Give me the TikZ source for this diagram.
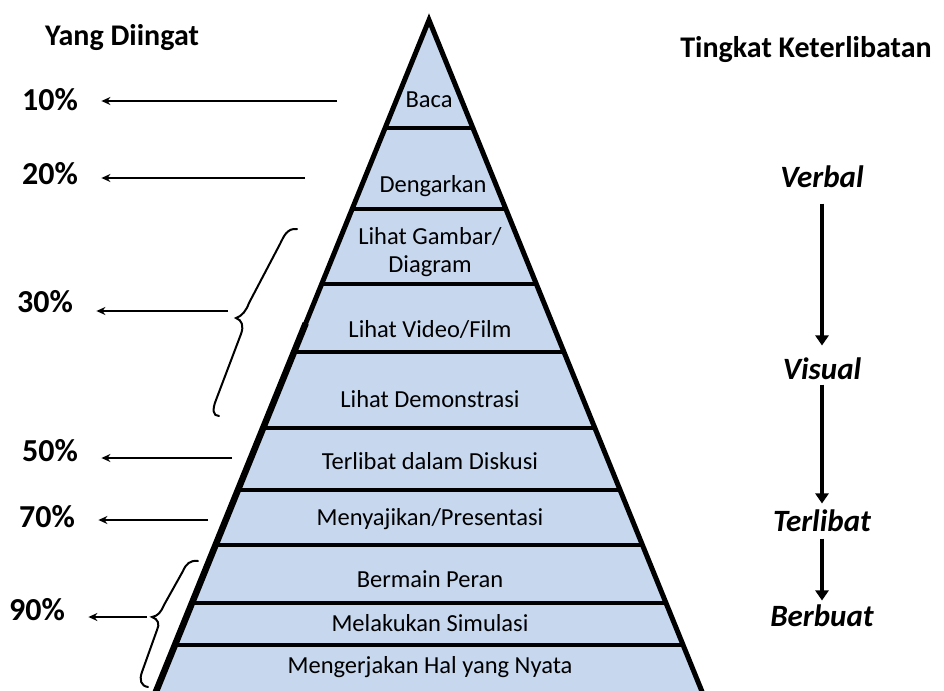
\documentclass[tikz,border=0pt]{standalone}
\usepackage{fontspec}
\setmainfont{Carlito}
\usetikzlibrary{arrows.meta,calc,positioning}

\definecolor{layerblue}{HTML}{C6D7EE}

\tikzset{
  layer/.style={font=\fontsize{24.5}{28}\selectfont, align=center},
  pct/.style={font=\bfseries\fontsize{32}{36}\selectfont},
  lvl/.style={font=\bfseries\itshape\fontsize{31}{34}\selectfont},
  head/.style={font=\bfseries\fontsize{30}{34}\selectfont},
  sep/.style={line width=3.5pt},
  lft/.style={-{Stealth[length=9pt,width=8pt]}, line width=2.5pt, shorten >=20pt},
  dwn/.style={-{Triangle[length=10pt,width=13pt]}, line width=3.5pt},
  brc/.style={line width=2pt, line cap=round},
}

\begin{document}
\begin{tikzpicture}[x=1pt,y=-1pt]
    \useasboundingbox (0,0) rectangle (944,690);

    % Pyramid
    \coordinate (apex) at (429,20);
    \coordinate (bl) at (155,694);
    \coordinate (br) at (703,694);
    \fill[layerblue] (apex) -- (bl) -- (br) -- cycle;
    \foreach \y [evaluate=\y as \t using (\y-20)/674] in {128,209,284,352,428,490,545,603,645}
        \draw[sep] ($(apex)!\t!(bl)$) -- ($(apex)!\t!(br)$);
    \draw[line width=5pt, line join=miter] (bl) -- (apex) -- (br);
    \draw[line width=6.5pt] ($(apex)!0.45!(bl)$) -- (bl);

    % Layers
    \node[layer] (baca) at (429,100) {Baca};
    \node[layer] (dengar) at (433,186) {Dengarkan};
    \node[layer] (gambar) at (430,252) {Lihat Gambar/\\Diagram};
    \node[layer] (video) at (430,330) {Lihat Video/Film};
    \node[layer] (demo) at (430,399) {Lihat Demonstrasi};
    \node[layer] (diskusi) at (430,461) {Terlibat dalam Diskusi};
    \node[layer] (presentasi) at (430,519) {Menyajikan/Presentasi};
    \node[layer] (peran) at (430,579) {Bermain Peran};
    \node[layer] (simulasi) at (430,623) {Melakukan Simulasi};
    \node[layer] (nyata) at (430,667) {Mengerjakan Hal yang Nyata};

    % Yang Diingat
    \node[head] (diingat) at (122,38) {Yang Diingat};
    \node[pct] (p10) at (50,100) {10\%};
    \node[pct] (p20) at (50,174) {20\%};
    \node[pct] (p30) at (45,302) {30\%};
    \node[pct] (p50) at (50,451) {50\%};
    \node[pct] (p70) at (47,517) {70\%};
    \node[pct] (p90) at (37,610) {90\%};

    \coordinate (a10) at (337,101);
    \coordinate (a20) at (305,178);
    \coordinate (a30) at (228,311);
    \coordinate (a50) at (232,458);
    \coordinate (a70) at (208,520);
    \coordinate (a90) at (147,617);
    \foreach \p in {10,20,30,50,70,90}
        \draw[lft] (a\p) -- (a\p -| p\p.east);

    % Braces
    \draw[brc] (297,229) .. controls (287,228) and (284,236) .. (280,244)
        -- (249,303) .. controls (246,311) and (242,316) .. (236,318)
        .. controls (242,320) and (244,326) .. (241,334)
        -- (216,400) .. controls (212,410) and (213,416) .. (219,416);
    \draw[brc] (198,561) .. controls (190,560) and (186,564) .. (183,571)
        -- (164,605) .. controls (161,612) and (158,616) .. (152,617)
        .. controls (158,619) and (160,624) .. (157,630)
        -- (142,672) .. controls (139,680) and (141,686) .. (148,687);

    % Tingkat Keterlibatan
    \node[head] (keterlibatan) at (806,50) {Tingkat Keterlibatan};
    \node[lvl] (verbal) at (822,177) {Verbal};
    \node[lvl] (visual) at (822,369) {Visual};
    \node[lvl] (terlibat) at (822,521) {Terlibat};
    \node[lvl] (berbuat) at (822,616) {Berbuat};
    \draw[dwn, shorten <=12pt, shorten >=9pt] (verbal) -- (visual);
    \draw[dwn, shorten <=1pt, shorten >=3pt] (visual) -- (terlibat);
    \draw[dwn, shorten <=3pt, shorten >=1pt] (terlibat) -- (berbuat);
\end{tikzpicture}
\end{document}
